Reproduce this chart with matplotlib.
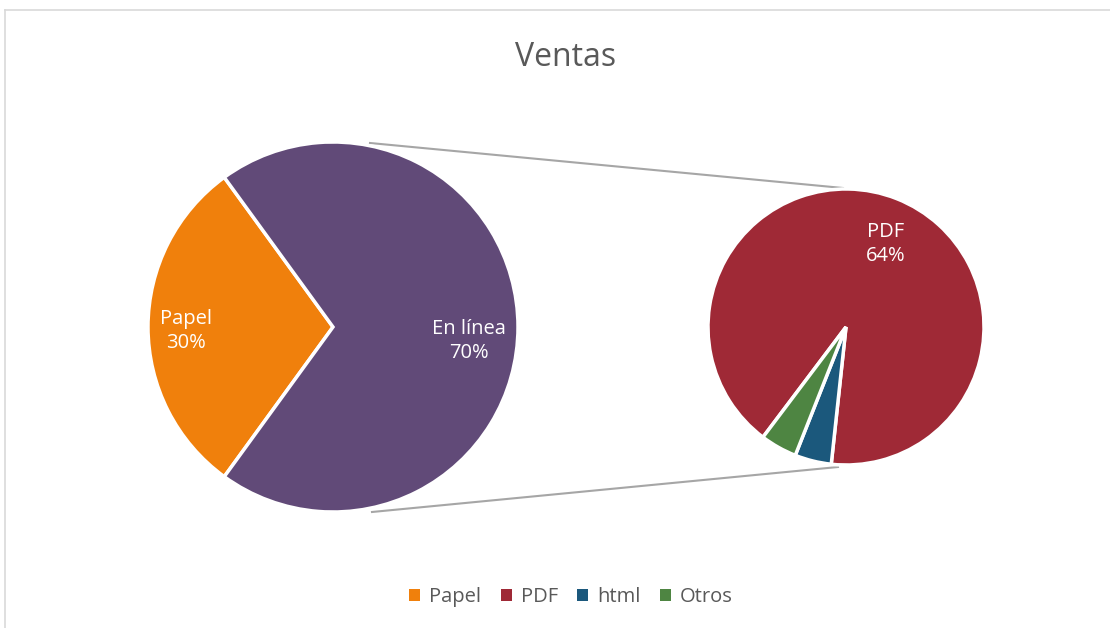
import matplotlib
matplotlib.use("Agg")
import matplotlib.pyplot as plt
from matplotlib.patches import Patch
from matplotlib.lines import Line2D

# ---- data ----
main_labels = ["Papel", "En línea"]
main_values = [30, 70]
sub_labels = ["PDF", "html", "Otros"]
sub_values = [64, 3, 3]
legend_labels = ["Papel", "PDF", "html", "Otros"]
title = "Ventas"

# ---- style ----
plt.rcParams["font.family"] = ["Open Sans", "DejaVu Sans"]
c_papel = "#F0800C"
c_online = "#614A78"
c_pdf = "#9F2936"
c_html = "#1B587C"
c_otros = "#4E8542"
gray_txt = "#595959"

W, H = 1110, 628
fig = plt.figure(figsize=(W / 100, H / 100), dpi=100)
ax = fig.add_axes([0, 0, 1, 1])


def Y(py):
    return H - py


# main pie
lc, lr = (333, Y(327)), 185
w1, _ = ax.pie(main_values, colors=[c_papel, c_online], startangle=126,
               counterclock=True, center=lc, radius=lr,
               wedgeprops=dict(edgecolor="white", linewidth=2.5))
# secondary pie
rc, rr = (846, Y(327)), 138
w2, _ = ax.pie(sub_values, colors=[c_pdf, c_html, c_otros], startangle=233,
               counterclock=False, center=rc, radius=rr,
               wedgeprops=dict(edgecolor="white", linewidth=2.5))

for w in list(w1) + list(w2):
    w.set_zorder(3)

# connector lines
ax.add_line(Line2D([370, 843], [Y(143), Y(188)], color="#A6A6A6", lw=1.5, zorder=2))
ax.add_line(Line2D([372, 838], [Y(512), Y(467)], color="#A6A6A6", lw=1.5, zorder=2))

# data labels
total = sum(main_values)
lab_kw = dict(color="white", fontsize=14.5, ha="center", va="center",
              linespacing=1.3, zorder=5)
ax.text(186, Y(331), f"{main_labels[0]}\n{main_values[0] * 100 // total}%", **lab_kw)
ax.text(469, Y(341), f"{main_labels[1]}\n{main_values[1] * 100 // total}%", **lab_kw)
ax.text(886, Y(244), f"{sub_labels[0]}\n{sub_values[0]}%", **lab_kw)

# title
ax.text(W / 2 + 11, Y(57), title, color=gray_txt, fontsize=23, ha="center", va="center")

# legend
handles = [Patch(facecolor=c, edgecolor="none") for c in [c_papel, c_pdf, c_html, c_otros]]
leg = ax.legend(handles, legend_labels, loc="center", bbox_to_anchor=(571 / W, 1 - 597 / H),
                ncol=4, frameon=False, fontsize=14.5, handlelength=0.55, handleheight=0.55,
                handletextpad=0.45, columnspacing=0.95, labelcolor=gray_txt)

# frame (left and top edges visible)
ax.add_line(Line2D([4.5, 4.5], [Y(10), -5], color="#D9D9D9", lw=1.2, zorder=1))
ax.add_line(Line2D([4.5, W + 5], [Y(10), Y(10)], color="#D9D9D9", lw=1.2, zorder=1))

ax.set_xlim(0, W)
ax.set_ylim(0, H)
ax.set_aspect("auto")
ax.axis("off")

fig.savefig("out.png", dpi=100, facecolor="white")
